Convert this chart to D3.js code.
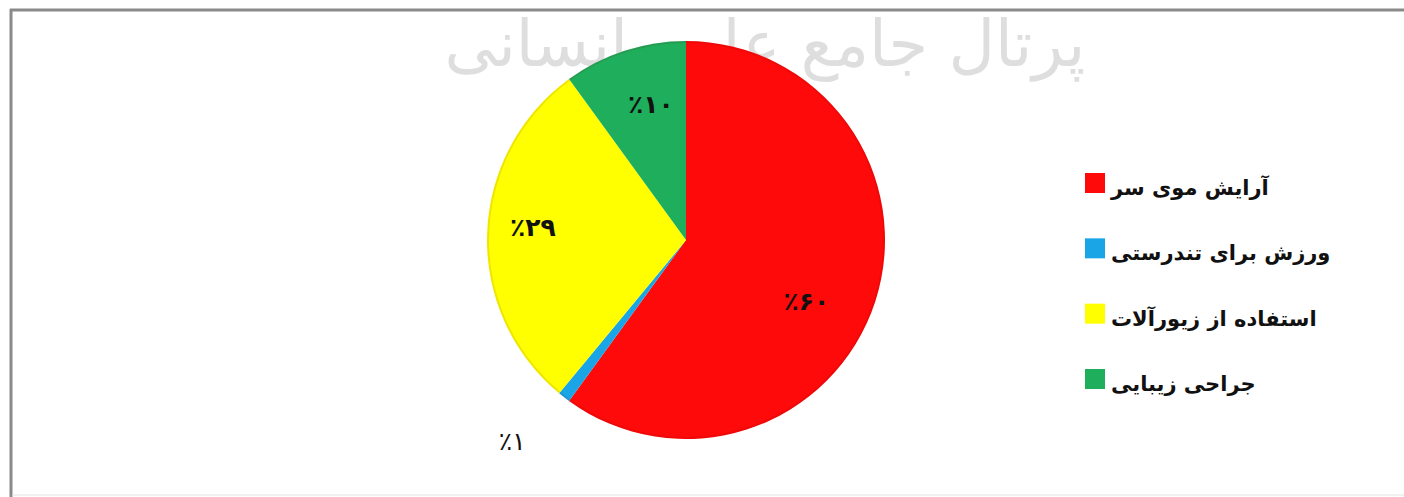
<!DOCTYPE html>
<html>
<head>
<meta charset="utf-8">
<script src="https://cdn.jsdelivr.net/npm/d3@7"></script>
<style>
  body { margin: 0; background: #fff; }
  svg { display: block; }
  text { font-family: "DejaVu Sans", sans-serif; }
</style>
</head>
<body>
<div id="chart"></div>
<script>
// data
const categories = ["آرایش موی سر", "ورزش برای تندرستی", "استفاده از زیورآلات", "جراحی زیبایی"];
const values = [60, 1, 29, 10];
const labels = ["٪۶۰", "٪۱", "٪۲۹", "٪۱۰"];
const palette = ["#fe0a0a", "#1aa6e6", "#ffff00", "#1fae5c"];

const W = 1404, H = 497;
const cx = 686, cy = 240, r = 199;

const svg = d3.select("#chart").append("svg")
  .attr("width", W)
  .attr("height", H);

// faint watermark at the top
svg.append("text")
  .attr("x", 765)
  .attr("y", 66)
  .attr("text-anchor", "middle")
  .style("font-size", "64px")
  .style("fill", "#dedede")
  .text("پرتال جامع علوم انسانی");

// frame
svg.append("line").attr("x1", 10).attr("x2", W).attr("y1", 10).attr("y2", 10)
  .attr("stroke", "#8a8a8a").attr("stroke-width", 3);
svg.append("line").attr("x1", 11).attr("x2", 11).attr("y1", 9).attr("y2", H)
  .attr("stroke", "#8a8a8a").attr("stroke-width", 3);
svg.append("line").attr("x1", 12).attr("x2", W).attr("y1", 495).attr("y2", 495)
  .attr("stroke", "#e2e2e2").attr("stroke-width", 1);

const color = d3.scaleOrdinal().domain(categories).range(palette);

const pie = d3.pie().sort(null).value(function(d, i) { return values[i]; });
const arcs = pie(categories);

const arc = d3.arc().innerRadius(0).outerRadius(r);

const g = svg.append("g").attr("transform", "translate(" + cx + "," + cy + ")");

g.selectAll("path")
  .data(arcs)
  .enter()
  .append("path")
    .attr("d", arc)
    .attr("fill", function(d) { return color(d.data); });

// rim shading
g.append("circle").attr("r", r - 1)
  .attr("fill", "none")
  .attr("stroke", "rgba(100,0,0,0.1)")
  .attr("stroke-width", 2);

// slice labels
const inner = d3.arc().innerRadius(r * 0.7).outerRadius(r * 0.7);
const outer = d3.arc().innerRadius(r * 1.36).outerRadius(r * 1.36);
const nudge = { 0: [-12, 18], 1: [-8, -13], 2: [-14, -8], 3: [8, -3] };

g.selectAll("text.lbl")
  .data(arcs)
  .enter()
  .append("text")
    .attr("class", "lbl")
    .attr("transform", function(d, i) {
      const small = values[i] < 5;
      const c = (small ? outer : inner).centroid(d);
      const n = nudge[i] || [0, 0];
      return "translate(" + (c[0] + n[0]) + "," + (c[1] + n[1]) + ")";
    })
    .attr("text-anchor", "middle")
    .attr("dy", "0.35em")
    .style("direction", "ltr")
    .style("unicode-bidi", "bidi-override")
    .style("font-size", "25px")
    .style("font-weight", function(d, i) { return values[i] < 5 ? "normal" : "bold"; })
    .style("fill", "#111")
    .text(function(d, i) { return labels[i]; });

// legend
const y = d3.scalePoint().domain(categories).range([183, 379]);

const leg = svg.append("g");
leg.selectAll("rect")
  .data(categories)
  .enter()
  .append("rect")
    .attr("x", 1085)
    .attr("y", function(d) { return y(d) - 10; })
    .attr("width", 20)
    .attr("height", 20)
    .attr("fill", function(d) { return color(d); });

leg.selectAll("text")
  .data(categories)
  .enter()
  .append("text")
    .attr("x", 1111)
    .attr("y", function(d) { return y(d) + 12; })
    .style("font-size", "21px")
    .style("font-weight", "bold")
    .style("fill", "#111")
    .text(function(d) { return d; });
</script>
</body>
</html>
